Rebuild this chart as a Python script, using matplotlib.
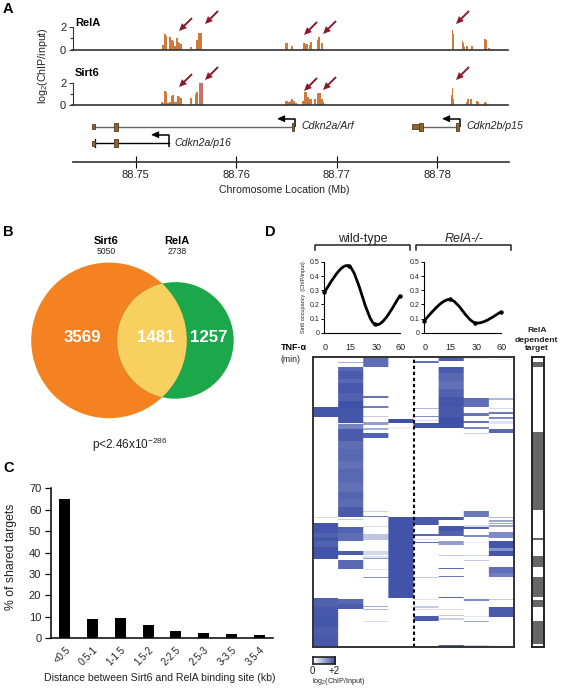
import numpy as np
import matplotlib
matplotlib.use('Agg')
import matplotlib.pyplot as plt
from matplotlib.colors import LinearSegmentedColormap
from matplotlib.patches import Circle, PathPatch, Rectangle
from matplotlib.path import Path
from matplotlib.transforms import ScaledTranslation

plt.rcParams['font.family'] = ['Liberation Sans', 'DejaVu Sans']
plt.rcParams['mathtext.default'] = 'regular'

W, H = 561, 689

# panel A, positions in Mb and log2 values
rela_pos = [88.7528, 88.7530, 88.7531, 88.7535, 88.7537, 88.7538, 88.7540, 88.7542, 88.7543,
            88.7544, 88.7546, 88.7556, 88.7562, 88.7564, 88.7566, 88.7650, 88.7651, 88.7656,
            88.7667, 88.7668, 88.7669, 88.7671, 88.7674, 88.7675, 88.7682, 88.7683, 88.7686,
            88.7816, 88.7817, 88.7826, 88.7827, 88.7828, 88.7830, 88.7835, 88.7848, 88.7849, 88.7852]
rela_val = [.45, 1.35, 1.2, 1.1, .9, .8, .3, 1.05, .7,
            .6, .55, .25, .9, 1.45, 1.45, .6, .6, .3,
            .1, .6, .55, .5, .45, .65, .9, 1.15, .6,
            1.75, 1.35, .75, .6, .25, .3, .35, .95, .85, .15]
sirt6_pos = [88.7527, 88.7528, 88.7530, 88.7531, 88.7532, 88.7534, 88.7535, 88.7537, 88.7538,
             88.7540, 88.7541, 88.7543, 88.7544, 88.7546, 88.7547, 88.7556, 88.7561, 88.7562,
             88.7650, 88.7651, 88.7653, 88.7655, 88.7656, 88.7658, 88.7660, 88.7667, 88.7669,
             88.7670, 88.7672, 88.7673, 88.7675, 88.7679, 88.7682, 88.7684, 88.7685, 88.7686,
             88.7687, 88.7815, 88.7816, 88.7817, 88.7830, 88.7831, 88.7834, 88.7840, 88.7841,
             88.7848, 88.7849]
sirt6_val = [.25, .2, 1.25, 1.2, .2, .2, .25, .8, .95,
             .3, .3, .85, .75, .65, .1, .6, 1.0, 1.2,
             .4, .4, .25, .35, .5, .35, .15, .4, 1.15,
             1.2, .7, .5, .5, .5, 1.1, 1.1, .5, .5,
             .25, .9, 1.5, .5, .3, .5, .5, .4, .3,
             .3, .2]
sirt6_sat_pos = [88.7564, 88.7565, 88.7566, 88.7567]
sirt6_sat_val = [2, 2, 2, 2]
chrom_ticks = [88.75, 88.76, 88.77, 88.78]

# panel B
venn_counts = ['3569', '1481', '1257']

# panel C
dist_labels = ['<0.5', '0.5-1', '1-1.5', '1.5-2', '2-2.5', '2.5-3', '3-3.5', '3.5-4']
dist_values = [65, 8.8, 9.5, 6, 3.5, 2.5, 2, 1.6]

# panel D
tnf_times = ['0', '15', '30', '60']
wt_occ = [0.285, 0.47, 0.06, 0.26]
ko_occ = [0.085, 0.235, 0.07, 0.145]

# heat map columns: (first row, last row, value) out of 290 rows
n_rows = 290
wt_0 = [(50, 60, .95), (160, 161, .2), (166, 176, .95), (176, 180, .89), (180, 184, .95), (184, 190, .89),
        (190, 202, .96), (241, 250, .89), (250, 258, .93), (258, 270, .95), (270, 278, .91), (278, 290, .93)]
wt_15 = [(5, 6, .45), (10, 14, .85), (14, 22, .92), (22, 26, .85), (26, 36, .93), (36, 44, .88), (44, 52, .97),
         (52, 66, .95), (66, 67, .1), (67, 72, .7), (72, 84, .92), (84, 92, .82), (92, 104, .85),
         (104, 112, .8), (112, 125, .85), (125, 135, .8), (135, 142, .87), (142, 150, .83), (150, 160, .92),
         (162, 163, .3), (170, 176, .88), (176, 184, .82), (194, 198, .92), (203, 212, .85), (242, 247, .85),
         (247, 252, .92)]
wt_30 = [(0, 10, .82), (39, 41, .78), (49, 51, .72), (59, 60, .3), (65, 68, .55), (71, 73, .45), (76, 81, .88),
         (154, 155, .25), (159, 160, .7), (169, 170, .2), (177, 183, .32), (194, 198, .22), (199, 201, .15),
         (201, 202, .55), (212, 213, .15), (220, 221, .6), (249, 250, .45), (252, 253, .4), (264, 265, .2)]
wt_60 = [(62, 66, .98), (70, 72, .08), (160, 241, .96)]
ko_0 = [(4, 6, .8), (51, 52, .4), (59, 60, .65), (63, 64, .2), (66, 71, .95), (160, 168, .93), (177, 179, .85),
        (182, 183, .15), (185, 186, .8), (220, 221, .3), (242, 243, .15), (249, 251, .3), (252, 253, .2),
        (259, 264, .92)]
ko_15 = [(0, 4, .9), (10, 16, .92), (16, 24, .85), (24, 32, .8), (32, 40, .88), (40, 50, .95), (50, 60, .93),
         (60, 71, .97), (160, 163, .92), (169, 174, .95), (174, 179, .88), (184, 188, .55), (198, 199, .3),
         (211, 212, .85), (219, 220, .75), (240, 241, .85), (252, 253, .2), (258, 259, .3), (261, 263, .25),
         (288, 290, .9)]
ko_30 = [(1, 2, .1), (41, 50, .82), (56, 59, .78), (64, 66, .8), (70, 72, .7), (76, 77, .25), (154, 160, .75),
         (168, 170, .2), (170, 172, .9), (178, 180, .65), (185, 186, .1), (198, 199, .2), (203, 204, .3),
         (242, 244, .65), (259, 260, .15), (264, 265, .5), (288, 290, .25)]
ko_60 = [(2, 3, .1), (41, 43, .4), (51, 52, .2), (55, 57, .75), (60, 62, .65), (64, 67, .15), (72, 76, .85),
         (160, 161, .4), (163, 165, .5), (166, 167, .5), (168, 170, .5), (175, 181, .65), (184, 191, .95),
         (191, 194, .6), (194, 199, .95), (210, 216, .8), (216, 220, .72), (242, 243, .3), (250, 260, .92),
         (288, 289, .05)]
heat_columns = [wt_0, wt_15, wt_30, wt_60, ko_0, ko_15, ko_30, ko_60]
rela_dependent = [(5, 10), (75, 153), (181, 183), (199, 210), (220, 240), (243, 250), (264, 287)]


def px_axes(fig, left, top, right, bottom):
    # axes placed from pixel positions of the picture
    return fig.add_axes([left / W, 1 - bottom / H, (right - left) / W, (bottom - top) / H])


def spans_to_matrix(columns, rows):
    m = np.zeros((rows, len(columns)))
    for c, col in enumerate(columns):
        for first, last, value in col:
            m[first:last, c] = value
    return m


def smooth_path(xs, ys):
    # catmull-rom through the points, as bezier segments
    verts = [(xs[0], ys[0])]
    codes = [Path.MOVETO]
    n = len(xs)
    for i in range(n - 1):
        x0, y0 = xs[max(i - 1, 0)], ys[max(i - 1, 0)]
        x1, y1 = xs[i], ys[i]
        x2, y2 = xs[i + 1], ys[i + 1]
        x3, y3 = xs[min(i + 2, n - 1)], ys[min(i + 2, n - 1)]
        verts += [(x1 + (x2 - x0) / 6, y1 + (y2 - y0) / 6), (x2 - (x3 - x1) / 6, y2 - (y3 - y1) / 6), (x2, y2)]
        codes += [Path.CURVE4] * 3
    return Path(verts, codes)


fig = plt.figure(figsize=(W / 100, H / 100), dpi=100)

# overlay in picture pixels, for the notes and drawings
ov = fig.add_axes([0, 0, 1, 1], zorder=5)
ov.set_xlim(0, W)
ov.set_ylim(H, 0)
ov.axis('off')
ov.patch.set_alpha(0)

# ---- A ----
mb_left = 88.75 + (72.5 - 135) / 10050
mb_right = 88.78 + (508.5 - 436.5) / 10050
bar_col = '#CE7A3C'


def track(top, bottom):
    ax = px_axes(fig, 72.5, top, 508.5, bottom)
    ax.set_xlim(mb_left, mb_right)
    ax.set_ylim(0, 2)
    ax.set_xticks([])
    ax.set_yticks([0, 2])
    ax.set_yticks([1], minor=True)
    ax.tick_params(axis='y', labelsize=8, length=3, width=0.8, pad=1.5, color='#333333', labelcolor='#222222')
    ax.tick_params(axis='y', which='minor', length=2, width=0.8, color='#333333')
    for s in ['top', 'right']:
        ax.spines[s].set_visible(False)
    ax.spines['bottom'].set_linewidth(1.2)
    ax.spines['bottom'].set_color('#333333')
    ax.spines['left'].set_linewidth(0.8)
    ax.spines['left'].set_color('#333333')
    ax.patch.set_alpha(0)
    return ax


ax1 = track(27, 49.8)
ax1.bar(rela_pos, rela_val, width=0.00017, color=bar_col, lw=0)
ax2 = track(83, 105)
ax2.bar(sirt6_pos, sirt6_val, width=0.00017, color=bar_col, lw=0)
ax2.bar(sirt6_sat_pos, sirt6_sat_val, width=0.00011, color='#C8716A', lw=0)

ov.text(75, 23, 'RelA', fontsize=8, fontweight='bold', ha='left', va='center')
ov.text(75, 73.5, 'Sirt6', fontsize=8, fontweight='bold', ha='left', va='center')
ov.text(43, 65.5, 'log$_2$(ChIP/input)', fontsize=7.7, rotation=90, ha='center', va='center', color='#222222')

arrow_starts = [(192, 18), (218, 11), (317, 22), (336, 21), (469, 11),
                (192, 74), (218, 67), (317, 78), (336, 77), (469, 67)]
for sx, sy in arrow_starts:
    ov.annotate('', xy=(sx - 13, sy + 13), xytext=(sx, sy),
                arrowprops=dict(arrowstyle='simple,head_length=0.55,head_width=0.5,tail_width=0.14',
                                color='#8B1A2B', lw=0, shrinkA=0, shrinkB=0))


def exon(x0, x1, y, h, col='#8F6430'):
    ov.add_patch(Rectangle((x0, y - h / 2), x1 - x0, h, fc=col, ec='#4A3A22', lw=0.6, zorder=3))


def tss(x, y_low, y_high, x_tip):
    ov.plot([x, x, x_tip + 5], [y_low, y_high, y_high], color='black', lw=1.1, solid_capstyle='butt')
    ov.annotate('', xy=(x_tip, y_high), xytext=(x_tip + 6, y_high),
                arrowprops=dict(arrowstyle='-|>,head_length=0.45,head_width=0.2', color='black', lw=0.8,
                                shrinkA=0, shrinkB=0))


# Cdkn2a/Arf
ov.plot([93, 293], [126.5, 126.5], color='#666666', lw=1.0)
exon(92.3, 95.3, 126.5, 5)
exon(114, 118, 126.5, 8)
exon(292, 294.5, 126.5, 8)
tss(295.5, 127, 118.7, 277)
ov.text(301, 126, 'Cdkn2a/Arf', fontsize=7.6, style='italic', va='center', color='#222222')
# Cdkn2a/p16
ov.plot([93, 169], [143, 143], color='black', lw=1.0)
ov.plot([95, 95], [139, 147], color='black', lw=0.9)
exon(92.3, 95.3, 143, 5)
exon(114, 118, 143, 8)
tss(169.5, 147, 134.7, 151)
ov.text(174, 143, 'Cdkn2a/p16', fontsize=7.6, style='italic', va='center', color='#222222')
# Cdkn2b/p15
ov.plot([420, 458], [126.5, 126.5], color='#666666', lw=1.0)
exon(411.7, 420.5, 126.5, 5)
exon(419.5, 423, 126.5, 8)
exon(456, 458.8, 126.5, 8)
tss(460, 127, 118.7, 442)
ov.text(466, 126, 'Cdkn2b/p15', fontsize=7.6, style='italic', va='center', color='#222222')

ax3 = px_axes(fig, 73, 150, 509, 162)
ax3.set_xlim(mb_left, mb_right)
ax3.set_yticks([])
ax3.set_xticks(chrom_ticks)
ax3.set_xticklabels(['%.2f' % t for t in chrom_ticks])
ax3.tick_params(axis='x', direction='inout', length=9, width=0.8, labelsize=8, pad=1.5, labelcolor='#222222')
for s in ['top', 'left', 'right']:
    ax3.spines[s].set_visible(False)
ax3.spines['bottom'].set_linewidth(1.2)
ax3.spines['bottom'].set_color('#333333')
ax3.patch.set_alpha(0)
ov.text(284.5, 190, 'Chromosome Location (Mb)', fontsize=7.6, ha='center', va='center', color='#222222')

# ---- B ----
sirt6_circle = Circle((109, 340.4), 77.8, fc='#F58220', ec='none')
rela_circle = Circle((175.4, 340.4), 58.3, fc='#1BA74A', ec='none')
ov.add_patch(sirt6_circle)
ov.add_patch(rela_circle)
both = Circle((175.4, 340.4), 58.3, fc='#F7D060', ec='none')
ov.add_patch(both)
both.set_clip_path(Circle((109, 340.4), 77.8, transform=ov.transData))
for x, s in zip([82, 156, 209], venn_counts):
    ov.text(x, 337, s, color='white', fontsize=12.2, fontweight='bold', ha='center', va='center')
ov.text(106, 240.5, 'Sirt6', fontsize=8, fontweight='bold', ha='center', va='center')
ov.text(106, 251, '5050', fontsize=6.2, ha='center', va='center', color='#222222')
ov.text(177, 240.5, 'RelA', fontsize=8, fontweight='bold', ha='center', va='center')
ov.text(177, 251, '2738', fontsize=6.2, ha='center', va='center', color='#222222')
ov.text(130, 445, 'p<2.46x10$^{-286}$', fontsize=8.5, ha='center', va='center', color='#222222')

# ---- C ----
axc = px_axes(fig, 51, 488.3, 273, 638.3)
axc.bar(range(len(dist_values)), dist_values, width=0.4, color='black')
axc.set_xlim(-0.5, 7.5)
axc.set_ylim(0, 70)
axc.set_yticks(range(0, 71, 10))
axc.set_xticks(range(len(dist_labels)))
axc.set_xticklabels(dist_labels, rotation=45, ha='right', va='top', rotation_mode='anchor', fontsize=7,
                    color='#222222')
for lab in axc.get_xticklabels():
    lab.set_transform(lab.get_transform() + ScaledTranslation(0.06, 0, fig.dpi_scale_trans))
axc.tick_params(axis='y', labelsize=8, length=4, width=0.9, pad=3, labelcolor='#222222')
axc.tick_params(axis='x', length=0, pad=5)
for s in ['top', 'right']:
    axc.spines[s].set_visible(False)
axc.spines['left'].set_linewidth(1.1)
axc.spines['bottom'].set_linewidth(1.1)
ov.text(11, 557, '% of shared targets', fontsize=8.8, rotation=90, ha='center', va='center', color='#222222')
ov.text(160, 678, 'Distance between Sirt6 and RelA binding site (kb)', fontsize=7.6, ha='center', va='center',
        color='#222222')


# ---- D ----
def occ_plot(left, right, values):
    ax = px_axes(fig, left, 262, right, 332.7)
    xs = list(range(len(values)))
    ax.add_patch(PathPatch(smooth_path(xs, values), fc='none', ec='black', lw=2.0, capstyle='round'))
    ax.plot(xs, values, 'o', color='black', ms=2.2, clip_on=False)
    ax.set_xlim(0, 3)
    ax.set_ylim(0, 0.5)
    ax.set_xticks(xs)
    ax.set_xticklabels([])
    ax.set_yticks(np.arange(0, 0.51, 0.1))
    ax.set_yticklabels(['0', '0.1', '0.2', '0.3', '0.4', '0.5'])
    ax.tick_params(axis='y', labelsize=5, length=2, width=0.7, pad=1.5, labelcolor='#222222')
    ax.tick_params(axis='x', length=0)
    for s in ['top', 'right']:
        ax.spines[s].set_visible(False)
    ax.spines['left'].set_linewidth(0.8)
    ax.spines['bottom'].set_linewidth(0.8)
    ax.patch.set_alpha(0)
    for x, t in zip([left, left + (right - left) * 0.33, left + (right - left) * 0.68, right], tnf_times):
        ov.text(x + 1, 348, t, fontsize=6.5, ha='center', va='center', color='#222222')


occ_plot(324, 400, wt_occ)
occ_plot(424, 500.7, ko_occ)
ov.text(304, 297, 'Sirt6 occupancy  (ChIP/input)', fontsize=4, rotation=90, ha='center', va='center',
        color='#222222')

for x0, x1 in [(315, 410), (416, 511)]:
    ov.plot([x0, x0, x1, x1], [249.5, 245, 245, 249.5], color='#222222', lw=1.1)
ov.text(363, 239, 'wild-type', fontsize=9, ha='center', va='center', color='#222222')
ov.text(464, 239, 'RelA-/-', fontsize=9, style='italic', ha='center', va='center', color='#222222')
ov.text(281, 348, 'TNF-α', fontsize=6.5, fontweight='bold', ha='left', va='center')
ov.text(281, 359, '(min)', fontsize=6.3, ha='left', va='center', color='#222222')
for y, s in zip([331, 340, 348.5], ['RelA', 'dependent', 'target']):
    ov.text(536.7, y, s, fontsize=6.1, fontweight='bold', ha='center', va='center', color='#222222')

heat_cmap = LinearSegmentedColormap.from_list('chip', ['white', '#3B4EA6'])
axh = px_axes(fig, 313, 357, 514, 647)
# columns repeated so the smoothing only softens the edges by about a pixel
axh.imshow(np.repeat(spans_to_matrix(heat_columns, n_rows), 25, axis=1), cmap=heat_cmap, vmin=0, vmax=1,
           aspect='auto', interpolation='bilinear', extent=[0, 8, n_rows, 0])
axh.axvline(4, color='black', lw=1.5, ls=(0, (1.6, 1.3)))
axh.set_xticks([])
axh.set_yticks([])
for s in axh.spines.values():
    s.set_linewidth(1.4)
    s.set_color('#333333')

axs = px_axes(fig, 532, 357, 544, 647)
axs.set_xlim(0, 1)
axs.set_ylim(n_rows, 0)
for first, last in rela_dependent:
    axs.barh((first + last) / 2, 1, height=last - first, left=0, color='#666666')
axs.set_xticks([])
axs.set_yticks([])
for s in axs.spines.values():
    s.set_linewidth(1.4)
    s.set_color('#222222')

axb = px_axes(fig, 312.5, 657, 335, 664)
axb.imshow(np.linspace(0, 1, 64).reshape(1, -1), cmap=heat_cmap, aspect='auto')
axb.set_xticks([])
axb.set_yticks([])
for s in axb.spines.values():
    s.set_linewidth(1.2)
    s.set_color('#222222')
ov.text(312.5, 671.5, '0', fontsize=7, ha='center', va='center', color='#222222')
ov.text(333.7, 671.5, '+2', fontsize=7, ha='center', va='center', color='#222222')
ov.text(312.5, 681.5, 'log$_2$(ChIP/Input)', fontsize=5.2, ha='left', va='center', color='#222222')

# panel letters
for x, y, s in [(3, 9, 'A'), (3, 232, 'B'), (3, 468, 'C'), (265, 232, 'D')]:
    ov.text(x, y, s, fontsize=10.5, fontweight='bold', ha='left', va='center')

fig.savefig('out.png', dpi=100)
